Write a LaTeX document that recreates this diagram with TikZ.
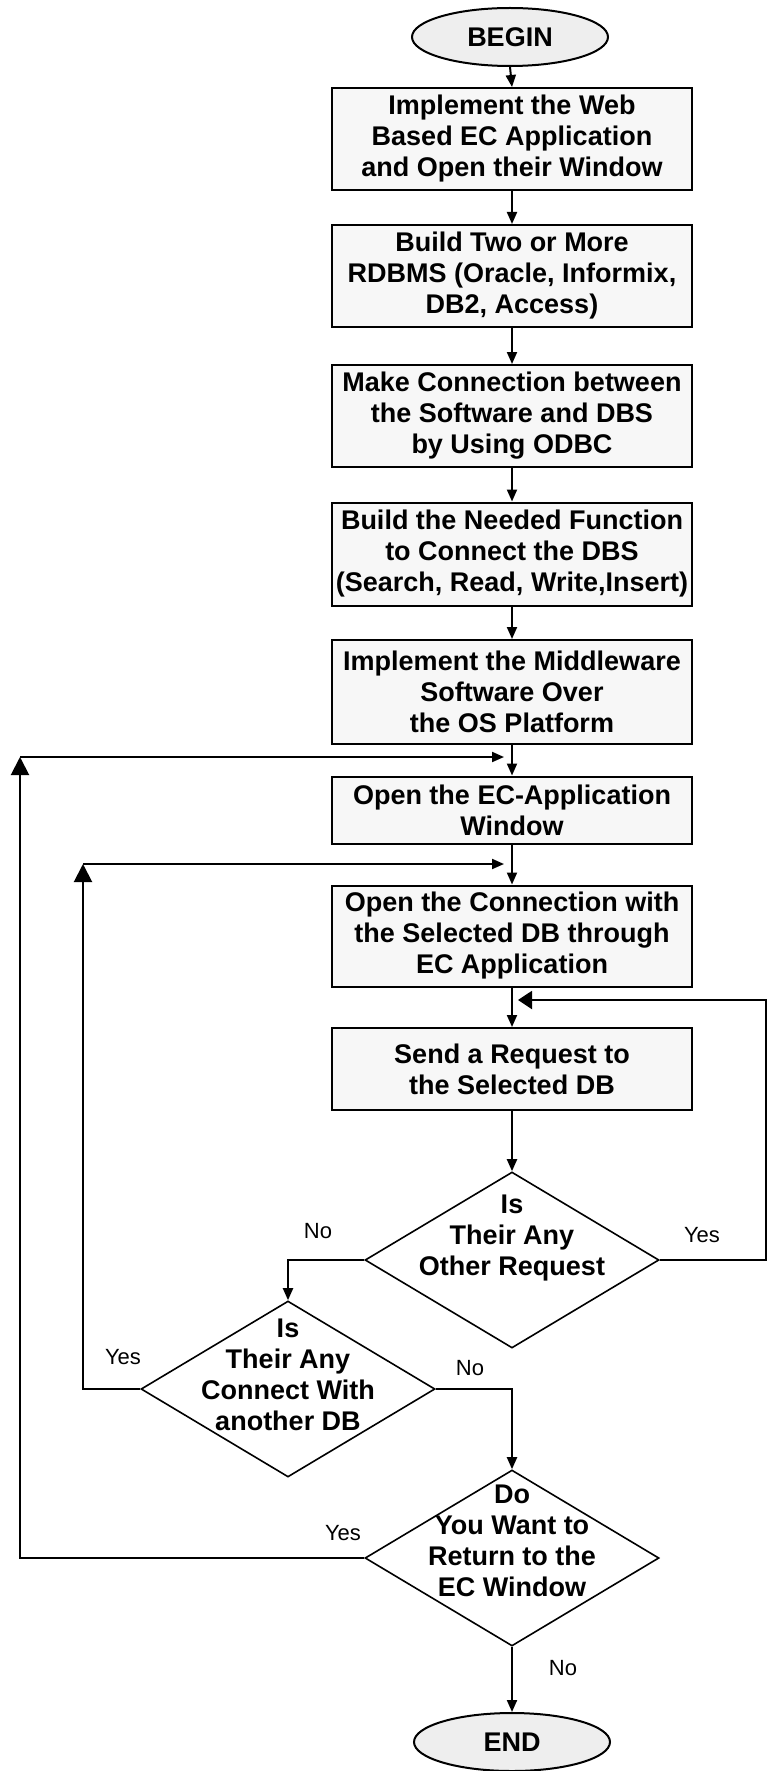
\documentclass[tikz,border=0pt]{standalone}
\usepackage{fontspec}
\setmainfont{Liberation Sans}
\usepackage{tikz}
\usetikzlibrary{shapes.geometric}
\usetikzlibrary{arrows.meta}

\tikzset{
  proc/.style={draw, line width=1pt, fill=gray!6, align=center, minimum width=180pt, inner sep=1pt, font=\fontsize{13.5}{15.5}\selectfont\bfseries},
  term/.style={ellipse, draw, line width=1pt, fill=gray!13, minimum width=98pt, minimum height=29pt, font=\fontsize{13.5}{15.5}\selectfont\bfseries},
  decision/.style={diamond, draw, line width=0.8pt, minimum width=147pt, minimum height=88pt, inner sep=0pt},
  dtext/.style={align=center, inner sep=0pt, font=\fontsize{13.5}{15.5}\selectfont\bfseries},
  lbl/.style={inner sep=0.75pt, font=\fontsize{11}{13}\selectfont},
  arr/.style={line width=1pt, -{Triangle[length=6pt,width=5pt]}},
  bigarr/.style={line width=1pt, -{Triangle[length=9pt,width=9pt]}}
}

\begin{document}
\begin{tikzpicture}[x=0.5pt,y=0.5pt,yscale=-1,xscale=1]
\useasboundingbox (0,0) rectangle (768,1771);

%Shape: Ellipse [id:start]
\node [term] (start) at (510,37) {BEGIN};
%Flowchart: Process [id:b1]
\node [proc, minimum height=51pt] (b1) at (512,139) {Implement the Web\\Based EC Application\\and Open their Window};
%Flowchart: Process [id:b2]
\node [proc, minimum height=51pt] (b2) at (512,276) {Build Two or More\\RDBMS (Oracle, Informix,\\DB2, Access)};
%Flowchart: Process [id:b3]
\node [proc, minimum height=51pt] (b3) at (512,416) {Make Connection between\\the Software and DBS\\by Using ODBC};
%Flowchart: Process [id:b4]
\node [proc, minimum height=51.5pt] (b4) at (512,554) {Build the Needed Function\\to Connect the DBS\\(Search, Read, Write,Insert)};
%Flowchart: Process [id:b5]
\node [proc, minimum height=52pt] (b5) at (512,692) {Implement the Middleware\\Software Over\\the OS Platform};
%Flowchart: Process [id:b6]
\node [proc, minimum height=33.5pt] (b6) at (512,810) {Open the EC-Application\\Window};
%Flowchart: Process [id:b7]
\node [proc, minimum height=50.5pt] (b7) at (512,936) {Open the Connection with\\the Selected DB through\\EC Application};
%Flowchart: Process [id:b8]
\node [proc, minimum height=41pt] (b8) at (512,1069) {Send a Request to\\the Selected DB};

%Flowchart: Decision [id:d1]
\node [decision] (d1) at (512,1260) {};
%Flowchart: Decision [id:d2]
\node [decision] (d2) at (288,1389) {};
%Flowchart: Decision [id:d3]
\node [decision] (d3) at (512,1558) {};
%Shape: Ellipse [id:stop]
\node [term] (stop) at (512,1742) {END};

% Text Node
\node [dtext] (d1t) at (512,1238) {Is\\Their Any\\Other Request};
% Text Node
\node [dtext] (d2t) at (288,1375) {Is\\Their Any\\Connect With\\another DB};
% Text Node
\node [dtext] (d3t) at (512,1541) {Do\\You Want to\\Return to the\\EC Window};

% Text Node
\node [lbl] (no1) at (318,1231) {No};
% Text Node
\node [lbl] (yes1) at (702,1235) {Yes};
% Text Node
\node [lbl] (yes2) at (123,1357) {Yes};
% Text Node
\node [lbl] (no2) at (470,1368) {No};
% Text Node
\node [lbl] (yes3) at (343,1533) {Yes};
% Text Node
\node [lbl] (no3) at (563,1668) {No};

%Bends of the return lines
\coordinate (l1) at (20,757);
\coordinate (j1) at (504,757);
\coordinate (l2) at (83,864);
\coordinate (j2) at (504,864);
\coordinate (r1) at (766,1000);
\coordinate (j3) at (518,1000);

%Straight Lines
\draw [arr] (start.south) -- (b1.north);
\draw [arr] (b1.south) -- (b2.north);
\draw [arr] (b2.south) -- (b3.north);
\draw [arr] (b3.south) -- (b4.north);
\draw [arr] (b4.south) -- (b5.north);
\draw [arr] (b5.south) -- (b6.north);
\draw [arr] (b6.south) -- (b7.north);
\draw [arr] (b7.south) -- (b8.north);
\draw [arr] (b8.south) -- (d1.north);
%Straight Lines
\draw [arr] (d1.west) -| (d2.north);
\draw [arr] (d2.east) -| (d3.north);
\draw [arr] (d3.south) -- (stop.north);
%Straight Lines
\draw [line width=1pt, -{Triangle[length=7pt,width=9pt]}] (d1.east) -| (r1) -- (j3);
\draw [bigarr] (d2.west) -| (l2);
\draw [arr] (l2) -- (j2);
\draw [bigarr] (d3.west) -| (l1);
\draw [arr] (l1) -- (j1);

\end{tikzpicture}
\end{document}
